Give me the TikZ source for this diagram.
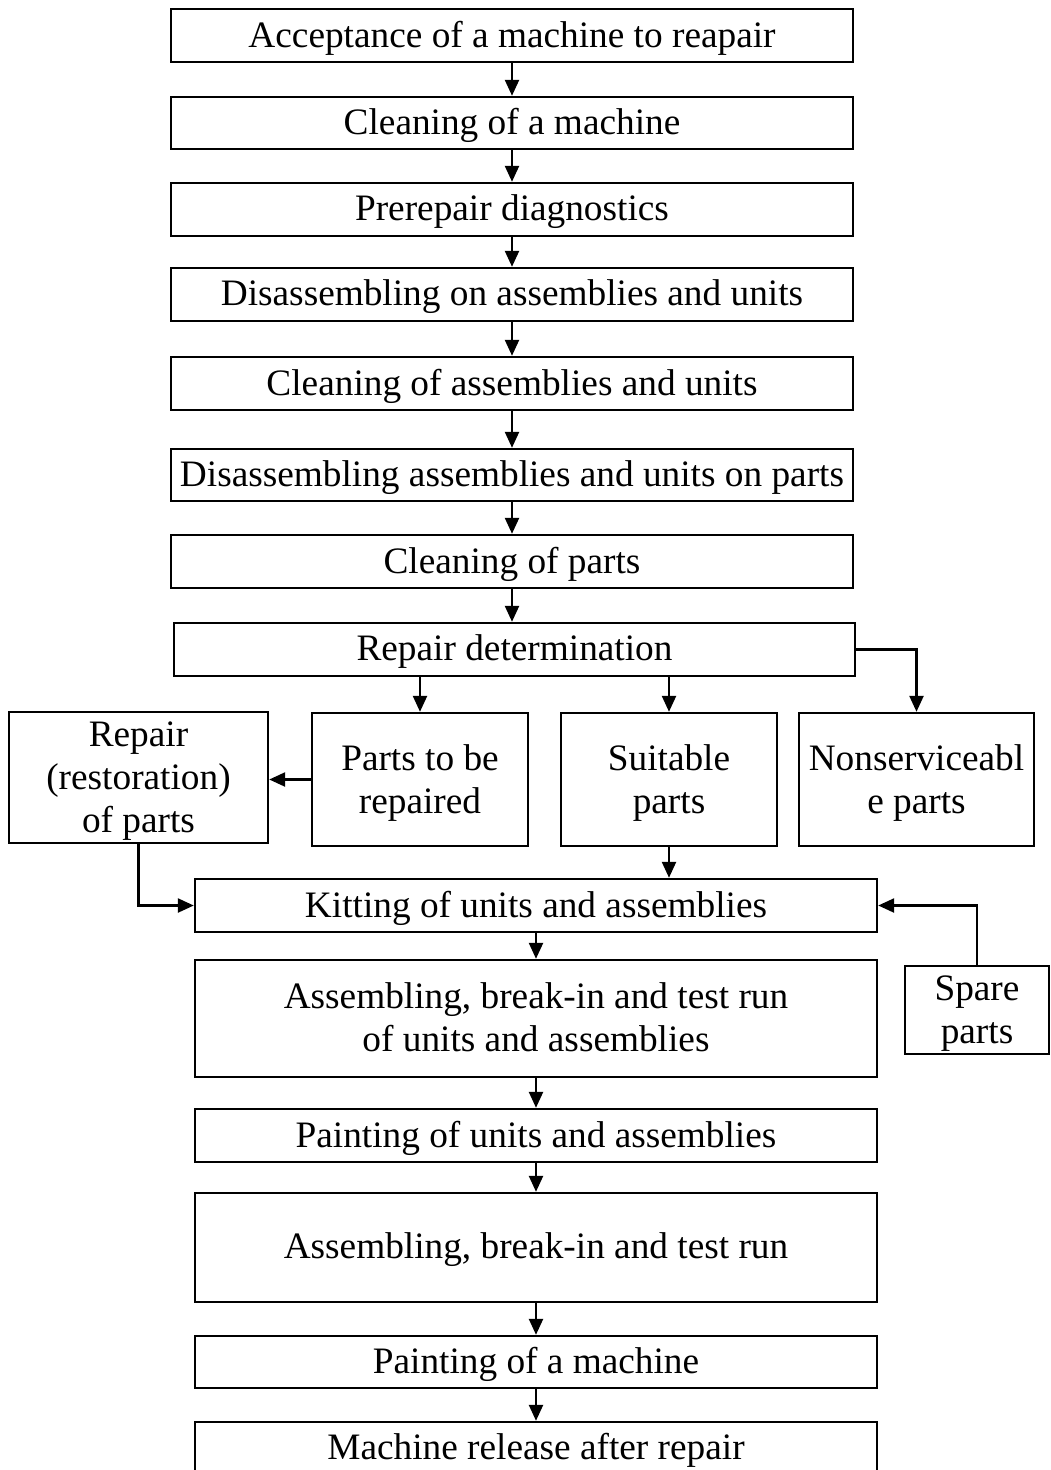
\documentclass[tikz,border=0pt]{standalone}
\usepackage{fontspec}
\setmainfont{Liberation Serif}
\usetikzlibrary{arrows.meta}
\begin{document}
\begin{tikzpicture}[x=1pt,y=-1pt,
  stage/.style={draw, line width=2.4pt, inner sep=0pt, align=center,
    text depth=3pt, font=\fontsize{37.3}{43}\selectfont},
  lowered/.style={text depth=-3pt},
  flow/.style={line width=2.4pt, -{Triangle[width=14pt,length=16pt]}}]
\useasboundingbox (0,0) rectangle (1050,1470);
\fill[white] (0,0) rectangle (1050,1470);

% main disassembly chain
\node[stage, minimum width=682pt, minimum height=53pt] (b1) at (512,35.5) {Acceptance of a machine to reapair};
\node[stage, minimum width=682pt, minimum height=52pt] (b2) at (512,123) {Cleaning of a machine};
\node[stage, minimum width=682pt, minimum height=53pt] (b3) at (512,209.5) {Prerepair diagnostics};
\node[stage, minimum width=682pt, minimum height=53pt] (b4) at (512,294.5) {Disassembling on assemblies and units};
\node[stage, minimum width=682pt, minimum height=53pt] (b5) at (512,383.5) {Cleaning of assemblies and units};
\node[stage, minimum width=682pt, minimum height=52pt] (b6) at (512,475) {Disassembling assemblies and units on parts};
\node[stage, minimum width=682pt, minimum height=53pt] (b7) at (512,561.5) {Cleaning of parts};
\node[stage, minimum width=681pt, minimum height=53pt] (b8) at (514.5,649.5) {Repair determination};

% sorting of parts
\node[stage, lowered, minimum width=259pt, minimum height=131pt] (rep) at (138.5,777.5) {Repair\\(restoration)\\of parts};
\node[stage, lowered, minimum width=216pt, minimum height=133pt] (parts) at (420,779.5) {Parts to be\\repaired};
\node[stage, lowered, minimum width=216pt, minimum height=133pt] (suit) at (669,779.5) {Suitable\\parts};
\node[stage, lowered, minimum width=235pt, minimum height=133pt] (nons) at (916.5,779.5) {Nonserviceabl\\e parts};

% assembly chain
\node[stage, minimum width=682pt, minimum height=53pt] (kit) at (536,905.5) {Kitting of units and assemblies};
\node[stage, lowered, minimum width=144pt, minimum height=88pt] (spare) at (977,1010) {Spare\\parts};
\node[stage, minimum width=682pt, minimum height=117pt] (a1) at (536,1018.5) {Assembling, break-in and test run\\of units and assemblies};
\node[stage, minimum width=682pt, minimum height=53pt] (p1) at (536,1135.5) {Painting of units and assemblies};
\node[stage, minimum width=682pt, minimum height=109pt] (a2) at (536,1247.5) {Assembling, break-in and test run};
\node[stage, minimum width=682pt, minimum height=52pt] (p2) at (536,1362) {Painting of a machine};
\node[stage, minimum width=682pt, minimum height=52pt] (rel) at (536,1448) {Machine release after repair};

% connectors
\draw[flow] (b1) -- (b2);
\draw[flow] (b2) -- (b3);
\draw[flow] (b3) -- (b4);
\draw[flow] (b4) -- (b5);
\draw[flow] (b5) -- (b6);
\draw[flow] (b6) -- (b7);
\draw[flow] (b7.south) -- (b7.south |- b8.north);
\draw[flow] (b8.south -| parts.north) -- (parts.north);
\draw[flow] (b8.south -| suit.north) -- (suit.north);
\draw[flow] (b8.east) -| (nons.north);
\draw[flow] (parts.west) -- (parts.west -| rep.east);
\draw[flow] (rep.south) |- (kit.west);
\draw[flow] (suit.south) -- (suit.south |- kit.north);
\draw[flow] (spare.north) |- (kit.east);
\draw[flow] (kit) -- (a1);
\draw[flow] (a1) -- (p1);
\draw[flow] (p1) -- (a2);
\draw[flow] (a2) -- (p2);
\draw[flow] (p2) -- (rel);
\end{tikzpicture}
\end{document}
